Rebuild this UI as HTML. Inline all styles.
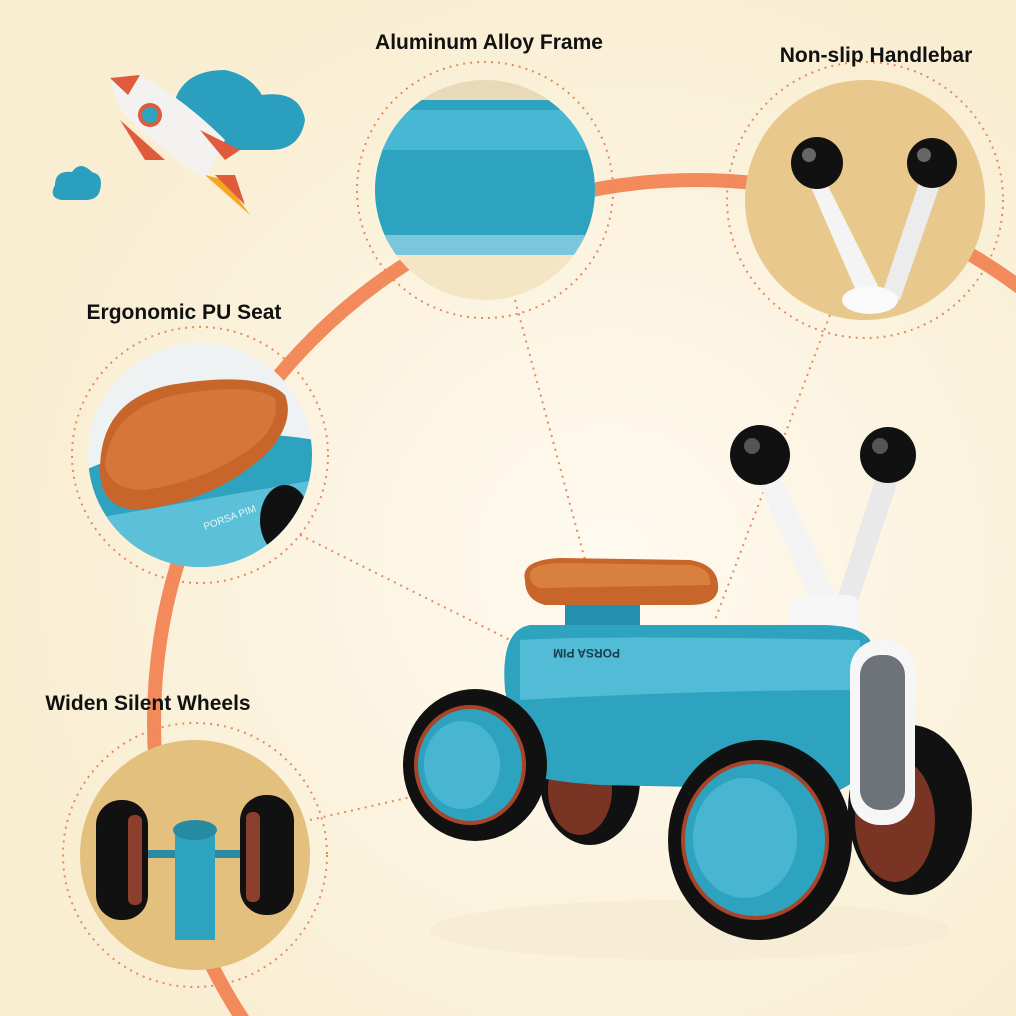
<!DOCTYPE html>
<html><head><meta charset="utf-8"><style>
html,body{margin:0;padding:0;width:1016px;height:1016px;overflow:hidden;background:#fbf1d9;position:relative}
svg{display:block;position:absolute;left:0;top:0}
text{font-family:"Liberation Sans",sans-serif;font-weight:bold;fill:#111}
</style></head><body>
<svg width="1016" height="1016" viewBox="0 0 1016 1016" xmlns="http://www.w3.org/2000/svg">
<defs>
<radialGradient id="bg" cx="0.6" cy="0.55" r="0.6"><stop offset="0" stop-color="#fffaf0"/><stop offset="1" stop-color="#f9eed2"/></radialGradient>
<clipPath id="c1"><circle cx="485" cy="190" r="110"/></clipPath>
<clipPath id="c2"><circle cx="865" cy="200" r="120"/></clipPath>
<clipPath id="c3"><circle cx="200" cy="455" r="112"/></clipPath>
<clipPath id="c4"><circle cx="195" cy="855" r="115"/></clipPath>
</defs>
<rect width="1016" height="1016" fill="url(#bg)"/>
<circle cx="696" cy="722" r="542" fill="none" stroke="#f28a5b" stroke-width="14"/>
<g stroke="#e58a5f" stroke-width="2" stroke-dasharray="2 5" fill="none">
<line x1="515" y1="300" x2="585" y2="560"/>
<line x1="830" y1="315" x2="715" y2="620"/>
<line x1="300" y1="535" x2="510" y2="640"/>
<line x1="310" y1="820" x2="420" y2="795"/>
</g>
<g fill="none" stroke="#e58a5f" stroke-width="2" stroke-dasharray="2 5">
<circle cx="485" cy="190" r="128"/>
<circle cx="865" cy="200" r="138"/>
<circle cx="200" cy="455" r="128"/>
<circle cx="195" cy="855" r="132"/>
</g>
<g clip-path="url(#c1)">
<rect x="370" y="75" width="230" height="230" fill="#f4e6c4"/>
<rect x="370" y="75" width="230" height="30" fill="#e8d9b8"/>
<rect x="370" y="100" width="230" height="140" fill="#2ea3c0"/>
<rect x="370" y="110" width="230" height="40" fill="#46b8d4"/>
<rect x="370" y="235" width="230" height="20" fill="#79c6dd"/>
</g>
<g clip-path="url(#c2)">
<rect x="740" y="75" width="250" height="250" fill="#e8c88c"/>
<path d="M810 185 L860 300 L885 300 L825 180 Z" fill="#f4f4f4"/>
<path d="M920 180 L880 300 L900 300 L940 185 Z" fill="#ececec"/>
<ellipse cx="870" cy="300" rx="28" ry="14" fill="#fafafa"/>
<circle cx="817" cy="163" r="26" fill="#111"/>
<circle cx="932" cy="163" r="25" fill="#111"/>
<circle cx="809" cy="155" r="7" fill="#666"/>
<circle cx="924" cy="155" r="7" fill="#666"/>
</g>
<g clip-path="url(#c3)">
<rect x="85" y="340" width="230" height="230" fill="#eef2f3"/>
<path d="M85 470 Q200 420 315 440 L315 570 L85 570 Z" fill="#2ea3c0"/>
<path d="M85 520 L315 480 L315 570 L85 570 Z" fill="#5cc0d8"/>
<ellipse cx="285" cy="520" rx="25" ry="35" fill="#111"/>
<path d="M100 470 Q100 400 170 385 Q260 370 285 395 Q295 420 270 450 Q220 500 140 510 Q100 510 100 470 Z" fill="#c8652b"/>
<path d="M105 465 Q110 410 175 395 Q250 382 275 398 Q280 425 255 445 Q210 480 145 490 Q110 490 105 465 Z" fill="#d5773a"/>
<text x="205" y="530" font-size="10" transform="rotate(-20 205 530)" style="fill:#e8f6fa;font-weight:normal">PORSA PIM</text>
</g>
<g clip-path="url(#c4)">
<rect x="75" y="735" width="240" height="240" fill="#e4c07f"/>
<rect x="120" y="850" width="140" height="8" fill="#2a8aa4"/>
<path d="M175 830 L215 830 L215 940 L175 940 Z" fill="#2ea3c0"/>
<ellipse cx="195" cy="830" rx="22" ry="10" fill="#268aa3"/>
<rect x="96" y="800" width="52" height="120" rx="25" fill="#111"/>
<rect x="240" y="795" width="54" height="120" rx="26" fill="#111"/>
<rect x="128" y="815" width="14" height="90" rx="6" fill="#8b3f2c"/>
<rect x="246" y="812" width="14" height="90" rx="6" fill="#8b3f2c"/>
</g>
<g>
<path d="M175 100 Q185 70 225 70 Q250 75 262 95 Q300 90 305 120 Q300 150 270 150 L190 150 Q160 150 165 125 Q160 105 175 100 Z" fill="#2b9fbe"/>
<path d="M55 185 Q55 170 72 172 Q80 160 92 172 Q104 175 100 190 Q98 200 85 200 L62 200 Q48 198 55 185 Z" fill="#2b9fbe"/>
<path d="M110 78 L140 75 Q185 100 225 140 L205 180 Q155 145 120 110 Z" fill="#f4f2f0"/>
<path d="M110 78 L140 75 L128 95 Z" fill="#e05a3c"/>
<circle cx="150" cy="115" r="12" fill="#e05a3c"/><circle cx="150" cy="115" r="8" fill="#2ea3c0"/>
<path d="M120 120 L145 160 L165 160 Z" fill="#e05a3c"/>
<path d="M200 130 L240 150 L225 160 Z" fill="#e05a3c"/>
<path d="M205 175 L250 215 L225 180 Z" fill="#f5a623"/>
<path d="M215 175 L245 205 L235 175 Z" fill="#e05a3c"/>
</g>
<g>
<ellipse cx="690" cy="930" rx="260" ry="30" fill="#f5ead2" opacity="0.7"/>
<ellipse cx="910" cy="810" rx="62" ry="85" fill="#111"/>
<ellipse cx="895" cy="820" rx="40" ry="62" fill="#7a3424"/>
<ellipse cx="590" cy="780" rx="50" ry="65" fill="#111"/>
<ellipse cx="580" cy="790" rx="32" ry="45" fill="#7a3424"/>
<path d="M755 475 L815 610 L840 605 L775 465 Z" fill="#f3f3f3"/>
<path d="M880 465 L835 605 L855 610 L900 475 Z" fill="#e9e9e9"/>
<rect x="790" y="595" width="70" height="40" rx="12" fill="#f6f6f6"/>
<circle cx="760" cy="455" r="30" fill="#111"/>
<circle cx="888" cy="455" r="28" fill="#111"/>
<circle cx="752" cy="446" r="8" fill="#555"/>
<circle cx="880" cy="446" r="8" fill="#555"/>
<path d="M530 625 Q500 630 505 690 L520 770 Q530 780 600 785 L840 790 L875 770 L870 640 Q860 625 820 625 Z" fill="#2ea3c0"/>
<path d="M520 640 Q600 635 860 640 L860 690 Q700 690 520 700 Z" fill="#52bbd6"/>
<rect x="565" y="595" width="75" height="30" fill="#2590ad"/>
<path d="M525 580 Q520 560 560 558 L690 560 Q720 565 718 590 Q715 605 690 605 L545 605 Q525 600 525 580 Z" fill="#c8652b"/>
<path d="M530 575 Q530 563 565 563 L690 565 Q712 568 710 585 L540 588 Q530 585 530 575 Z" fill="#d9803f"/>
<text x="560" y="655" font-size="12" style="fill:#1b3c4c;font-weight:bold" transform="rotate(180 590 652)">PORSA PIM</text>
<rect x="850" y="640" width="65" height="185" rx="30" fill="#f6f6f6"/>
<rect x="860" y="655" width="45" height="155" rx="20" fill="#6d7378"/>
<ellipse cx="475" cy="765" rx="72" ry="76" fill="#111"/>
<ellipse cx="470" cy="765" rx="56" ry="60" fill="#a8442a"/>
<ellipse cx="470" cy="765" rx="52" ry="56" fill="#2ea3c0"/>
<ellipse cx="462" cy="765" rx="38" ry="44" fill="#48b6d1"/>
<ellipse cx="760" cy="840" rx="92" ry="100" fill="#111"/>
<ellipse cx="755" cy="840" rx="74" ry="80" fill="#a8442a"/>
<ellipse cx="755" cy="840" rx="70" ry="76" fill="#2ea3c0"/>
<ellipse cx="745" cy="838" rx="52" ry="60" fill="#48b6d1"/>
</g>
<text x="489" y="49" font-size="21" text-anchor="middle">Aluminum Alloy Frame</text>
<text x="876" y="62" font-size="21" text-anchor="middle">Non-slip Handlebar</text>
<text x="184" y="319" font-size="21" text-anchor="middle">Ergonomic PU Seat</text>
<text x="148" y="710" font-size="21" text-anchor="middle">Widen Silent Wheels</text>
</svg>
</body></html>
